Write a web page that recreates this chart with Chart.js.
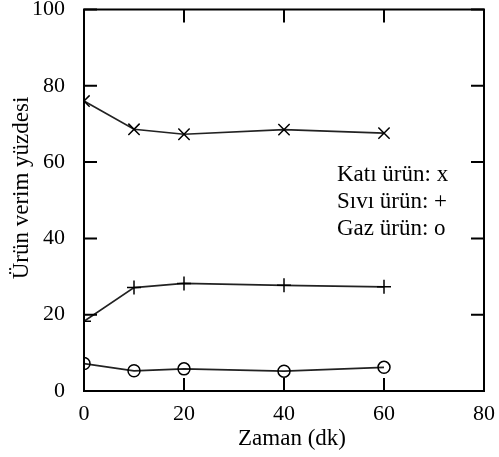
<!DOCTYPE html>
<html>
<head>
<meta charset="utf-8">
<script src="https://cdn.jsdelivr.net/npm/chart.js@4/dist/chart.umd.min.js"></script>
<style>
  body { margin: 0; background: #fff; }
  #wrap { width: 499px; height: 457px; }
</style>
</head>
<body>
<div id="wrap"><canvas id="chart" width="499" height="457"></canvas></div>
<script>
// ===================== //
//  Veriler (okunan)     //
// ===================== //
const zaman = [0, 10, 20, 40, 60];          // dk
const katiUrun = [76.0, 68.6, 67.3, 68.5, 67.6];
const siviUrun = [18.3, 27.1, 28.2, 27.7, 27.3];
const gazUrun = [7.2, 5.3, 5.8, 5.2, 6.2];

const xTicks = [0, 20, 40, 60, 80];
const yTicks = [0, 20, 40, 60, 80, 100];

const xTitle = "Zaman (dk)";
const yTitle = "Ürün verim yüzdesi";
const notes = ["Katı ürün: x", "Sıvı ürün: +", "Gaz ürün: o"];

const FONT = "'Liberation Serif', 'Times New Roman', serif";

function pts(ys) {
    return zaman.map((x, i) => ({ x: x, y: ys[i] }));
}

// kutu + içe dönük çentikler + yazılar
const frame = {
    id: "frame",
    afterDraw(chart) {
        const { ctx, chartArea: a, scales } = chart;
        const len = 13;
        ctx.save();
        ctx.strokeStyle = "#000";
        ctx.lineWidth = 2;
        ctx.strokeRect(a.left, a.top, a.right - a.left, a.bottom - a.top);

        ctx.beginPath();
        xTicks.forEach(v => {
            const px = scales.x.getPixelForValue(v);
            ctx.moveTo(px, a.bottom); ctx.lineTo(px, a.bottom - len);
            ctx.moveTo(px, a.top); ctx.lineTo(px, a.top + len);
        });
        yTicks.forEach(v => {
            const py = scales.y.getPixelForValue(v);
            ctx.moveTo(a.left, py); ctx.lineTo(a.left + len, py);
            ctx.moveTo(a.right, py); ctx.lineTo(a.right - len, py);
        });
        ctx.stroke();

        ctx.fillStyle = "#000";
        ctx.font = "23px " + FONT;
        ctx.textAlign = "left";
        ctx.textBaseline = "alphabetic";
        notes.forEach((t, i) => ctx.fillText(t, 337, 181 + i * 27));

        ctx.textAlign = "center";
        ctx.fillText(xTitle, 292, 445);

        ctx.translate(22, 188);
        ctx.rotate(-Math.PI / 2);
        ctx.textBaseline = "middle";
        ctx.fillText(yTitle, 0, 0);
        ctx.restore();
    }
};

// etiket taşmaları yüzünden eklenen boşlukları kaldır
function noOverhang(s) {
    s.paddingTop = 0; s.paddingBottom = 0;
    s.paddingLeft = 0; s.paddingRight = 0;
}

const common = {
    borderColor: "#222",
    borderWidth: 1.7,
    pointBorderColor: "#000",
    pointBackgroundColor: "rgba(0,0,0,0)",
    pointBorderWidth: 1.5,
    tension: 0,
    clip: 0
};

new Chart(document.getElementById("chart").getContext("2d"), {
    type: "line",
    data: {
        datasets: [
            { ...common, label: "Katı ürün", data: pts(katiUrun), pointStyle: "crossRot", pointRadius: 8 },
            { ...common, label: "Sıvı ürün", data: pts(siviUrun), pointStyle: "cross", pointRadius: 7 },
            { ...common, label: "Gaz ürün", data: pts(gazUrun), pointStyle: "circle", pointRadius: 6 }
        ]
    },
    options: {
        responsive: false,
        animation: false,
        layout: { padding: { top: 9, right: 15, left: 0, bottom: 0 } },
        plugins: { legend: { display: false }, tooltip: { enabled: false } },
        scales: {
            x: {
                type: "linear",
                min: 0, max: 80,
                afterBuildTicks: s => { s.ticks = xTicks.map(v => ({ value: v })); },
                afterFit: s => { s.height = 66; noOverhang(s); },
                grid: { display: false },
                border: { display: false },
                ticks: { color: "#000", padding: 2, font: { family: FONT, size: 22 } }
            },
            y: {
                min: 0, max: 100,
                afterBuildTicks: s => { s.ticks = yTicks.map(v => ({ value: v })); },
                afterFit: s => { s.width = 84; noOverhang(s); },
                grid: { display: false },
                border: { display: false },
                ticks: { color: "#000", padding: 11, font: { family: FONT, size: 22 } }
            }
        }
    },
    plugins: [frame]
});
</script>
</body>
</html>
